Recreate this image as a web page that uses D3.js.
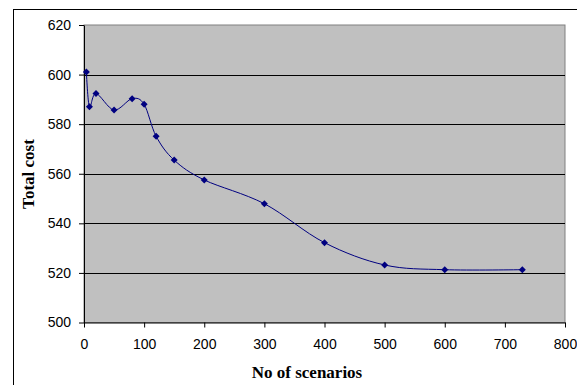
<!DOCTYPE html>
<html>
<head>
<meta charset="utf-8">
<script src="https://cdn.jsdelivr.net/npm/d3@7"></script>
<style>
  body { margin: 0; background: #fff; }
  .axis text { font-family: 'Liberation Sans', Arial, sans-serif; font-size: 14px; fill: #000; }
  .axis path, .axis line { stroke: #000; }
  .title { font-family: 'Liberation Serif', 'Times New Roman', serif; font-size: 17px; font-weight: bold; }
</style>
</head>
<body>
<div id="chart"></div>
<script>
// data
var scenarios = [4, 9, 20, 50, 80, 100, 120, 150, 200, 300, 400, 500, 600, 729]
var totalCost = [601.0, 587.0, 592.4, 585.7, 590.3, 588.0, 575.1, 565.5, 557.5, 547.9, 532.2, 523.2, 521.3, 521.3]
var xTicks = [0, 100, 200, 300, 400, 500, 600, 700, 800]
var yTicks = [500, 520, 540, 560, 580, 600, 620]

var W = 577, H = 385
var margin = { top: 25, right: 12, bottom: 62.5, left: 84 }
var w = W - margin.left - margin.right
var h = H - margin.top - margin.bottom

var svg = d3.select('#chart').append('svg')
  .attr('width', W)
  .attr('height', H)

// outer chart frame
svg.append('rect')
  .attr('x', 13.5).attr('y', 9.5)
  .attr('width', 600).attr('height', 400)
  .attr('fill', 'none')
  .attr('stroke', '#000')

var g = svg.append('g')
  .attr('transform', 'translate(' + margin.left + ',' + margin.top + ')')

var x = d3.scaleLinear().domain([0, 800]).range([0, w])
var y = d3.scaleLinear().domain([500, 620]).range([h, 0])

// plot area
g.append('rect')
  .attr('width', w).attr('height', h)
  .attr('fill', '#c0c0c0')
  .attr('stroke', '#808080')

// gridlines
g.selectAll('.grid')
  .data(yTicks.slice(1, -1))
  .enter().append('line')
  .attr('class', 'grid')
  .attr('x1', 0).attr('x2', w)
  .attr('y1', function(d) { return Math.round(y(d)) + 0.5 })
  .attr('y2', function(d) { return Math.round(y(d)) + 0.5 })
  .attr('stroke', '#000')

// axes
g.append('g')
  .attr('class', 'axis')
  .attr('transform', 'translate(0,' + h + ')')
  .call(d3.axisBottom(x).tickValues(xTicks).tickSize(5).tickPadding(12).tickSizeOuter(0))

g.append('g')
  .attr('class', 'axis')
  .call(d3.axisLeft(y).tickValues(yTicks).tickSize(5).tickPadding(8).tickSizeOuter(0))

// line
var pts = scenarios.map(function(d, i) { return [d, totalCost[i]] })
var line = d3.line()
  .x(function(d) { return x(d[0]) })
  .y(function(d) { return y(d[1]) })
  .curve(d3.curveCardinal.tension(0))

g.append('path')
  .datum(pts)
  .attr('d', line)
  .attr('fill', 'none')
  .attr('stroke', '#000080')
  .attr('stroke-width', 1)

// diamond markers
g.selectAll('.marker')
  .data(pts)
  .enter().append('path')
  .attr('class', 'marker')
  .attr('d', 'M0,-3.5L3.5,0L0,3.5L-3.5,0Z')
  .attr('transform', function(d) { return 'translate(' + x(d[0]) + ',' + y(d[1]) + ')' })
  .attr('fill', '#000080')

// axis titles
svg.append('text')
  .attr('class', 'title')
  .attr('x', 307).attr('y', 378)
  .attr('text-anchor', 'middle')
  .text('No of scenarios')

svg.append('text')
  .attr('class', 'title')
  .attr('transform', 'translate(34,174) rotate(-90)')
  .attr('text-anchor', 'middle')
  .text('Total cost')
</script>
</body>
</html>
